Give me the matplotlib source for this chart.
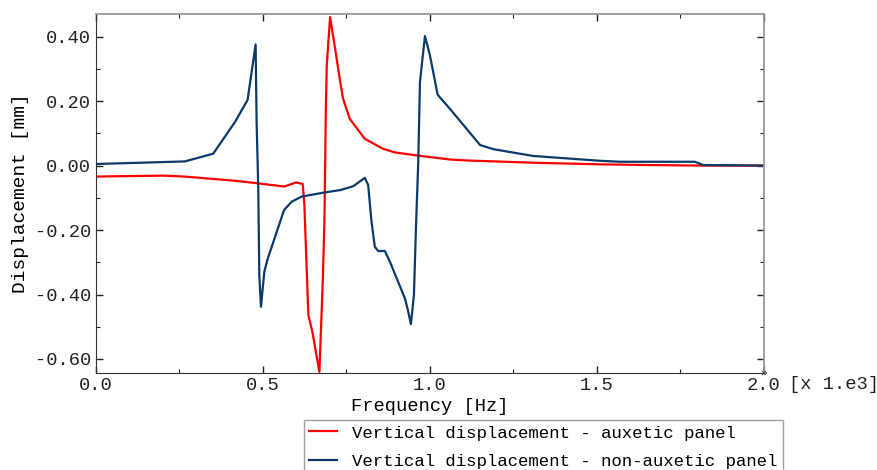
import numpy as np
import matplotlib.pyplot as plt
from matplotlib.ticker import MultipleLocator

# frequency in kHz (axis shown as [x 1.e3] Hz), displacement in mm
freq_aux = [0.0, 0.20, 0.266, 0.416, 0.486, 0.564, 0.599, 0.619, 0.624, 0.636,
            0.648, 0.669, 0.679, 0.684, 0.686, 0.688, 0.691, 0.701, 0.716,
            0.731, 0.740, 0.760, 0.805, 0.860, 0.895, 0.965, 1.060, 1.110,
            1.309, 1.509, 1.640, 1.820, 2.0]
disp_aux = [-0.034, -0.031, -0.034, -0.047, -0.055, -0.065, -0.052, -0.057,
            -0.122, -0.464, -0.516, -0.640, -0.361, -0.174, -0.019, 0.155,
            0.311, 0.461, 0.363, 0.262, 0.207, 0.145, 0.083, 0.052, 0.041,
            0.031, 0.019, 0.016, 0.009, 0.004, 0.002, 0.0, 0.0]

freq_non = [0.0, 0.266, 0.351, 0.416, 0.454, 0.478, 0.481, 0.486, 0.489,
            0.494, 0.504, 0.513, 0.563, 0.586, 0.616, 0.686, 0.731, 0.770,
            0.805, 0.815, 0.825, 0.835, 0.845, 0.865, 0.880, 0.925, 0.933,
            0.943, 0.952, 0.958, 0.965, 0.970, 0.985, 1.0, 1.023, 1.060,
            1.150, 1.190, 1.309, 1.509, 1.569, 1.793, 1.818, 2.0]
disp_non = [0.005, 0.013, 0.037, 0.135, 0.204, 0.376, 0.135, -0.072, -0.340,
            -0.438, -0.330, -0.293, -0.138, -0.112, -0.096, -0.083, -0.076,
            -0.064, -0.038, -0.060, -0.174, -0.252, -0.265, -0.265, -0.298,
            -0.412, -0.444, -0.492, -0.402, -0.195, 0.012, 0.259, 0.402,
            0.342, 0.220, 0.176, 0.064, 0.051, 0.030, 0.015, 0.012, 0.012,
            0.002, 0.0]

plt.rcParams['font.family'] = ['Liberation Mono', 'DejaVu Sans Mono']

fig = plt.figure(figsize=(8.78, 4.70), dpi=100)
ax = fig.add_axes([0.1093, 0.2064, 0.7608, 0.7638])

ax.plot(freq_aux, disp_aux, color='#ff0000', lw=1.6,
        label='Vertical displacement - auxetic panel')
ax.plot(freq_non, disp_non, color='#0b3a6a', lw=1.6,
        label='Vertical displacement - non-auxetic panel')

ax.set_xlim(0, 2.0)
ax.set_ylim(-0.6435, 0.4705)
ax.xaxis.set_major_locator(MultipleLocator(0.5))
ax.xaxis.set_minor_locator(MultipleLocator(0.25))
ax.yaxis.set_major_locator(MultipleLocator(0.2))
ax.yaxis.set_minor_locator(MultipleLocator(0.1))
ax.xaxis.set_major_formatter(lambda v, p: f'{v:.1f}')
ax.yaxis.set_major_formatter(lambda v, p: f'{v:.2f}')

ax.tick_params(which='both', direction='in', top=True, right=True,
               labelsize=13.5, colors='#222222')
ax.tick_params(which='major', length=5, width=1)
ax.tick_params(which='minor', length=3, width=0.8)
ax.tick_params(axis='x', which='both', pad=3)

for side in ['left', 'bottom']:
    ax.spines[side].set_color('#333333')
for side in ['top', 'right']:
    ax.spines[side].set_color('#999999')
    ax.spines[side].set_linewidth(1.3)

ax.set_xlabel('Frequency [Hz]', fontsize=13.5, labelpad=3)
ax.set_ylabel('Displacement [mm]', fontsize=14, labelpad=4)

# unit multiplier next to the last x tick, and the small end-of-axis arrow
ax.text(1.0 + 25 / 668, -3 / 359, '[x 1.e3]', transform=ax.transAxes,
        fontsize=13.5, va='top', ha='left', color='#222222')
ax.text(1.0, 0.0, '»', transform=ax.transAxes, fontsize=8,
        va='center', ha='center', color='#222222')

leg = fig.legend(loc='upper left', bbox_to_anchor=(0.346, 0.106),
                 fontsize=12.5, frameon=True, fancybox=False,
                 edgecolor='#888888', handlelength=1.6, handletextpad=0.9,
                 borderpad=0.3, labelspacing=0.75, borderaxespad=0)
leg.get_frame().set_linewidth(1.0)

fig.savefig('out.png', dpi=100)
